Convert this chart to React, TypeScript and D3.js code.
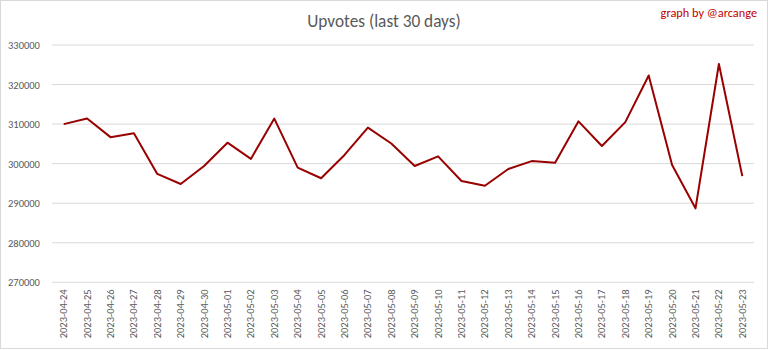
import React from "react";
import * as d3 from "d3";

const dates = [
  "2023-04-24","2023-04-25","2023-04-26","2023-04-27","2023-04-28","2023-04-29","2023-04-30",
  "2023-05-01","2023-05-02","2023-05-03","2023-05-04","2023-05-05","2023-05-06","2023-05-07",
  "2023-05-08","2023-05-09","2023-05-10","2023-05-11","2023-05-12","2023-05-13","2023-05-14",
  "2023-05-15","2023-05-16","2023-05-17","2023-05-18","2023-05-19","2023-05-20","2023-05-21",
  "2023-05-22","2023-05-23",
];
const upvotes = [
  310000, 311400, 306700, 307700, 297400, 294850, 299400,
  305300, 301200, 311400, 299000, 296300, 302200, 309100,
  305100, 299400, 301850, 295600, 294400, 298650, 300650,
  300250, 310700, 304450, 310500, 322300, 299650, 288700,
  325200, 296850,
];
const yTicks = [270000, 280000, 290000, 300000, 310000, 320000, 330000];

const W = 768, H = 350;
const left = 52, right = 754, top = 45, bottom = 282.3;

export default function App() {
  const x = d3.scaleBand<string>().domain(dates).range([left, right]);
  const y = d3.scaleLinear().domain([270000, 330000]).range([bottom, top]);
  const line = d3.line<number>()
    .x((_, i) => (x(dates[i]) as number) + x.bandwidth() / 2)
    .y((d) => y(d));
  const font = "Carlito, 'Liberation Sans', Arial, sans-serif";
  return (
    <svg width={W} height={H} style={{ position: "absolute", left: 0, top: 0, display: "block" }}>
      <rect x={0.5} y={0.5} width={W - 1} height={H - 2} fill="#fff" stroke="#d9d9d9" />
      <text x={384} y={27} textAnchor="middle" fontFamily={font} fontSize={17.3} fill="#595959">
        Upvotes (last 30 days)
      </text>
      <text x={757} y={17} textAnchor="end" fontFamily={font} fontSize={12.3} fill="#c00000">
        graph by @arcange
      </text>
      {yTicks.map((t) => (
        <g key={t}>
          <line x1={left} x2={right} y1={y(t)} y2={y(t)} stroke="#d9d9d9" strokeWidth={1} />
          <text x={8} y={y(t) + 4} fontFamily={font} fontSize={10.5} fill="#595959">
            {t}
          </text>
        </g>
      ))}
      {dates.map((d) => {
        const cx = (x(d) as number) + x.bandwidth() / 2;
        return (
          <text
            key={d}
            transform={`translate(${cx + 3.5},${bottom + 7}) rotate(-90)`}
            textAnchor="end"
            fontFamily={font}
            fontSize={10.5}
            fill="#595959"
          >
            {d}
          </text>
        );
      })}
      <path d={line(upvotes) as string} fill="none" stroke="#990000" strokeWidth={2} strokeLinejoin="round" />
    </svg>
  );
}
